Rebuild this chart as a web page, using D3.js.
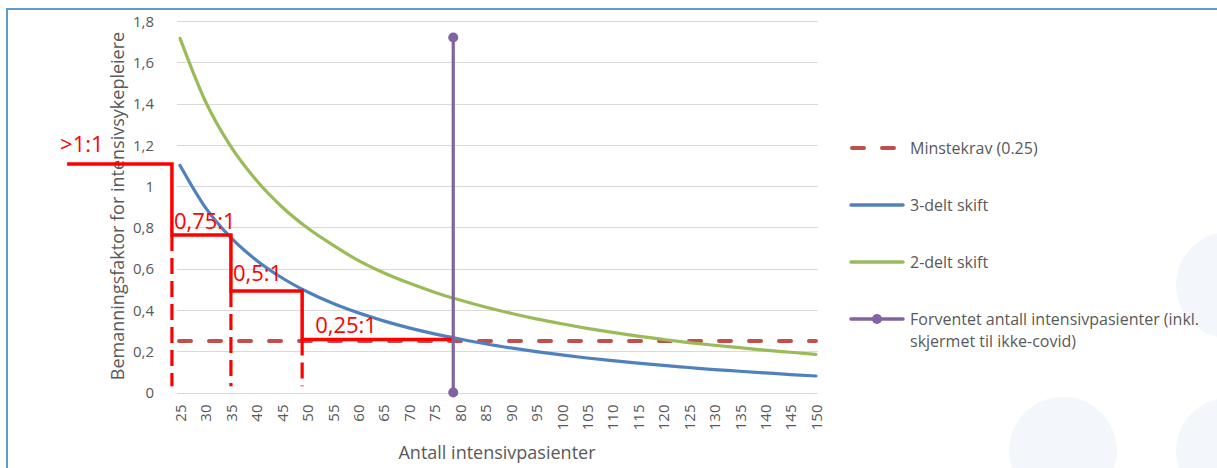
<!DOCTYPE html>
<html>
<head>
<meta charset="utf-8">
<script src="https://cdn.jsdelivr.net/npm/d3@7/dist/d3.min.js"></script>
<style>
  html, body { margin: 0; padding: 0; background: #ffffff; }
  svg { display: block; font-family: "Open Sans", "Noto Sans", sans-serif; }
</style>
</head>
<body>
<svg id="chart" width="1217" height="468"></svg>
<script>
// Number of ICU patients (x categories)
const patients = [25, 30, 35, 40, 45, 50, 55, 60, 65, 70, 75, 80, 85, 90, 95,
                  100, 105, 110, 115, 120, 125, 130, 135, 140, 145, 150];

// Staffing factor, 3-shift rota
const threeShift = [1.100, 0.896, 0.750, 0.641, 0.556, 0.488, 0.432, 0.386, 0.347, 0.313,
                    0.284, 0.259, 0.236, 0.216, 0.198, 0.182, 0.167, 0.154, 0.142, 0.131,
                    0.121, 0.111, 0.103, 0.095, 0.087, 0.080];

// Staffing factor, 2-shift rota
const twoShift = [1.716, 1.410, 1.191, 1.028, 0.900, 0.798, 0.715, 0.640, 0.580, 0.530,
                  0.486, 0.448, 0.414, 0.384, 0.357, 0.333, 0.311, 0.291, 0.273, 0.257,
                  0.242, 0.229, 0.217, 0.205, 0.195, 0.185];

// Minimum requirement
const minimumLevel = 0.25;

// Expected number of ICU patients (vertical marker line)
const expectedPatients = 78.7;
const expectedRange = [0, 1.72];

// Staffing-ratio steps drawn over the chart
const stepLabels = [">1:1", "0,75:1", "0,5:1", "0,25:1"];
const stepBounds = [2.8, 23.4, 35.0, 49.0, 78.7];
const stepLevels = [1.107, 0.763, 0.492, 0.257];
const stepFloor = 0.03;

// Axis ticks
const yTicks = [0, 0.2, 0.4, 0.6, 0.8, 1.0, 1.2, 1.4, 1.6, 1.8];
const xTicks = patients;

const legendLabels = ["Minstekrav (0.25)", "3-delt skift", "2-delt skift",
                      ["Forventet antall intensivpasienter (inkl.", "skjermet til ikke-covid)"]];

// Colours
const C = {
  border: "#5B9BD5", grid: "#D9D9D9", text: "#595959",
  minimum: "#C0504D", three: "#4F81BD", two: "#9BBB59", expected: "#8064A2",
  steps: "#FF0000", deco: "#F3F6FB"
};

const svg = d3.select("#chart");

// Background decoration
const decoCircles = [[1063, 451, 54], [1229, 285, 53], [1229, 451, 53]];
svg.append("g").selectAll("circle").data(decoCircles).join("circle")
  .attr("cx", d => d[0]).attr("cy", d => d[1]).attr("r", d => d[2])
  .attr("fill", C.deco);

// Frame
svg.append("line").attr("x1", 6).attr("x2", 1217).attr("y1", 9).attr("y2", 9)
  .attr("stroke", C.border).attr("stroke-width", 2);
svg.append("line").attr("x1", 7).attr("x2", 7).attr("y1", 8).attr("y2", 468)
  .attr("stroke", C.border).attr("stroke-width", 2);

// Scales
const x = d3.scaleLinear().domain([24.4, 150.4]).range([177, 818]);
const y = d3.scaleLinear().domain([0, 1.8]).range([392.5, 21]);

const no = d3.formatLocale({ decimal: ",", thousands: " ", grouping: [3], currency: ["", " kr"] });
const yFmt = no.format(".1~f");

// Gridlines
svg.append("g").selectAll("line").data(yTicks).join("line")
  .attr("x1", x.range()[0]).attr("x2", x.range()[1])
  .attr("y1", d => Math.round(y(d)) + 0.5).attr("y2", d => Math.round(y(d)) + 0.5)
  .attr("stroke", C.grid).attr("stroke-width", 1);

// Y axis
const yAxis = svg.append("g").attr("transform", `translate(${x.range()[0] - 20},0)`)
  .call(d3.axisLeft(y).tickValues(yTicks).tickFormat(yFmt).tickSize(0));
yAxis.select(".domain").remove();
yAxis.selectAll("text").attr("fill", C.text).attr("font-size", 15)
  .attr("font-family", "Open Sans").attr("dy", "0.35em");

// X axis (rotated labels)
const xAxis = svg.append("g").attr("transform", `translate(0,${y(0)})`)
  .call(d3.axisBottom(x).tickValues(xTicks).tickFormat(d3.format("d")).tickSize(0));
xAxis.select(".domain").remove();
xAxis.selectAll("text")
  .attr("fill", C.text).attr("font-size", 15).attr("font-family", "Open Sans")
  .attr("text-anchor", "end").attr("x", 0).attr("y", 0).attr("dy", "0.36em")
  .attr("transform", "translate(0,12) rotate(-90)");

// Axis titles
svg.append("text").attr("transform", "translate(124,206) rotate(-90)")
  .attr("text-anchor", "middle").attr("fill", C.text).attr("font-size", 18)
  .text("Bemanningsfaktor for intensivsykepleiere");
svg.append("text").attr("x", 497).attr("y", 459)
  .attr("text-anchor", "middle").attr("fill", C.text).attr("font-size", 18)
  .text("Antall intensivpasienter");

// Minimum requirement line
svg.append("line")
  .attr("x1", x.range()[0] + 2).attr("x2", x(150))
  .attr("y1", y(minimumLevel)).attr("y2", y(minimumLevel))
  .attr("stroke", C.minimum).attr("stroke-width", 4)
  .attr("stroke-dasharray", "12,18").attr("stroke-linecap", "round");

// Series lines (smoothed)
const line = d3.line().x((d, i) => x(patients[i])).y(d => y(d)).curve(d3.curveMonotoneX);
svg.append("path").datum(threeShift).attr("d", line)
  .attr("fill", "none").attr("stroke", C.three).attr("stroke-width", 3.2)
  .attr("stroke-linejoin", "round").attr("stroke-linecap", "round");
svg.append("path").datum(twoShift).attr("d", line)
  .attr("fill", "none").attr("stroke", C.two).attr("stroke-width", 3.2)
  .attr("stroke-linejoin", "round").attr("stroke-linecap", "round");

// Staffing-ratio steps
let stepPath = `M${x(stepBounds[0])},${y(stepLevels[0])}`;
stepLevels.forEach((lv, i) => {
  if (i > 0) stepPath += `V${y(lv)}`;
  stepPath += `H${x(stepBounds[i + 1])}`;
});
const steps = svg.append("g");
steps.append("path").attr("d", stepPath).attr("fill", "none")
  .attr("stroke", C.steps).attr("stroke-width", 3.5);
steps.selectAll("line.drop").data(d3.range(1, stepLevels.length)).join("line")
  .attr("class", "drop")
  .attr("x1", i => x(stepBounds[i])).attr("x2", i => x(stepBounds[i]))
  .attr("y1", i => y(stepLevels[i])).attr("y2", y(stepFloor))
  .attr("stroke", C.steps).attr("stroke-width", 3.2)
  .attr("stroke-dasharray", "16,7");
const labelOffsets = [[-7, -12], [2, -6], [2, -10], [13, -6]];
steps.selectAll("text").data(stepLabels).join("text")
  .attr("x", (d, i) => x(stepBounds[i]) + labelOffsets[i][0])
  .attr("y", (d, i) => y(stepLevels[i]) + labelOffsets[i][1])
  .attr("fill", C.steps).attr("font-size", 22)
  .text(d => d);

// Expected patients marker
svg.append("line")
  .attr("x1", x(expectedPatients)).attr("x2", x(expectedPatients))
  .attr("y1", y(expectedRange[0])).attr("y2", y(expectedRange[1]))
  .attr("stroke", C.expected).attr("stroke-width", 3.2);
svg.append("g").selectAll("circle").data(expectedRange).join("circle")
  .attr("cx", x(expectedPatients)).attr("cy", d => y(d)).attr("r", 5)
  .attr("fill", C.expected);

// Legend
const legendRows = [148, 205, 262, 319];
const lg = svg.append("g");
const lx0 = 850, lx1 = 904;
lg.append("line").attr("x1", lx0 + 2).attr("x2", lx1).attr("y1", legendRows[0]).attr("y2", legendRows[0])
  .attr("stroke", C.minimum).attr("stroke-width", 4)
  .attr("stroke-dasharray", "12,18").attr("stroke-linecap", "round");
lg.append("line").attr("x1", lx0 + 1).attr("x2", lx1 - 1).attr("y1", legendRows[1]).attr("y2", legendRows[1])
  .attr("stroke", C.three).attr("stroke-width", 3.5).attr("stroke-linecap", "round");
lg.append("line").attr("x1", lx0 + 1).attr("x2", lx1 - 1).attr("y1", legendRows[2]).attr("y2", legendRows[2])
  .attr("stroke", C.two).attr("stroke-width", 3.5).attr("stroke-linecap", "round");
lg.append("line").attr("x1", lx0 + 1).attr("x2", lx1 - 1).attr("y1", legendRows[3]).attr("y2", legendRows[3])
  .attr("stroke", C.expected).attr("stroke-width", 3.5).attr("stroke-linecap", "round");
lg.append("circle").attr("cx", (lx0 + lx1) / 2).attr("cy", legendRows[3]).attr("r", 5)
  .attr("fill", C.expected);

legendLabels.forEach((lab, i) => {
  const t = lg.append("text").attr("x", 910).attr("y", legendRows[i] + 6)
    .attr("fill", C.text).attr("font-size", 16);
  if (Array.isArray(lab)) {
    lab.forEach((s, j) => t.append("tspan").attr("x", 910).attr("dy", j === 0 ? 0 : 22).text(s));
  } else {
    t.text(lab);
  }
});
</script>
</body>
</html>
